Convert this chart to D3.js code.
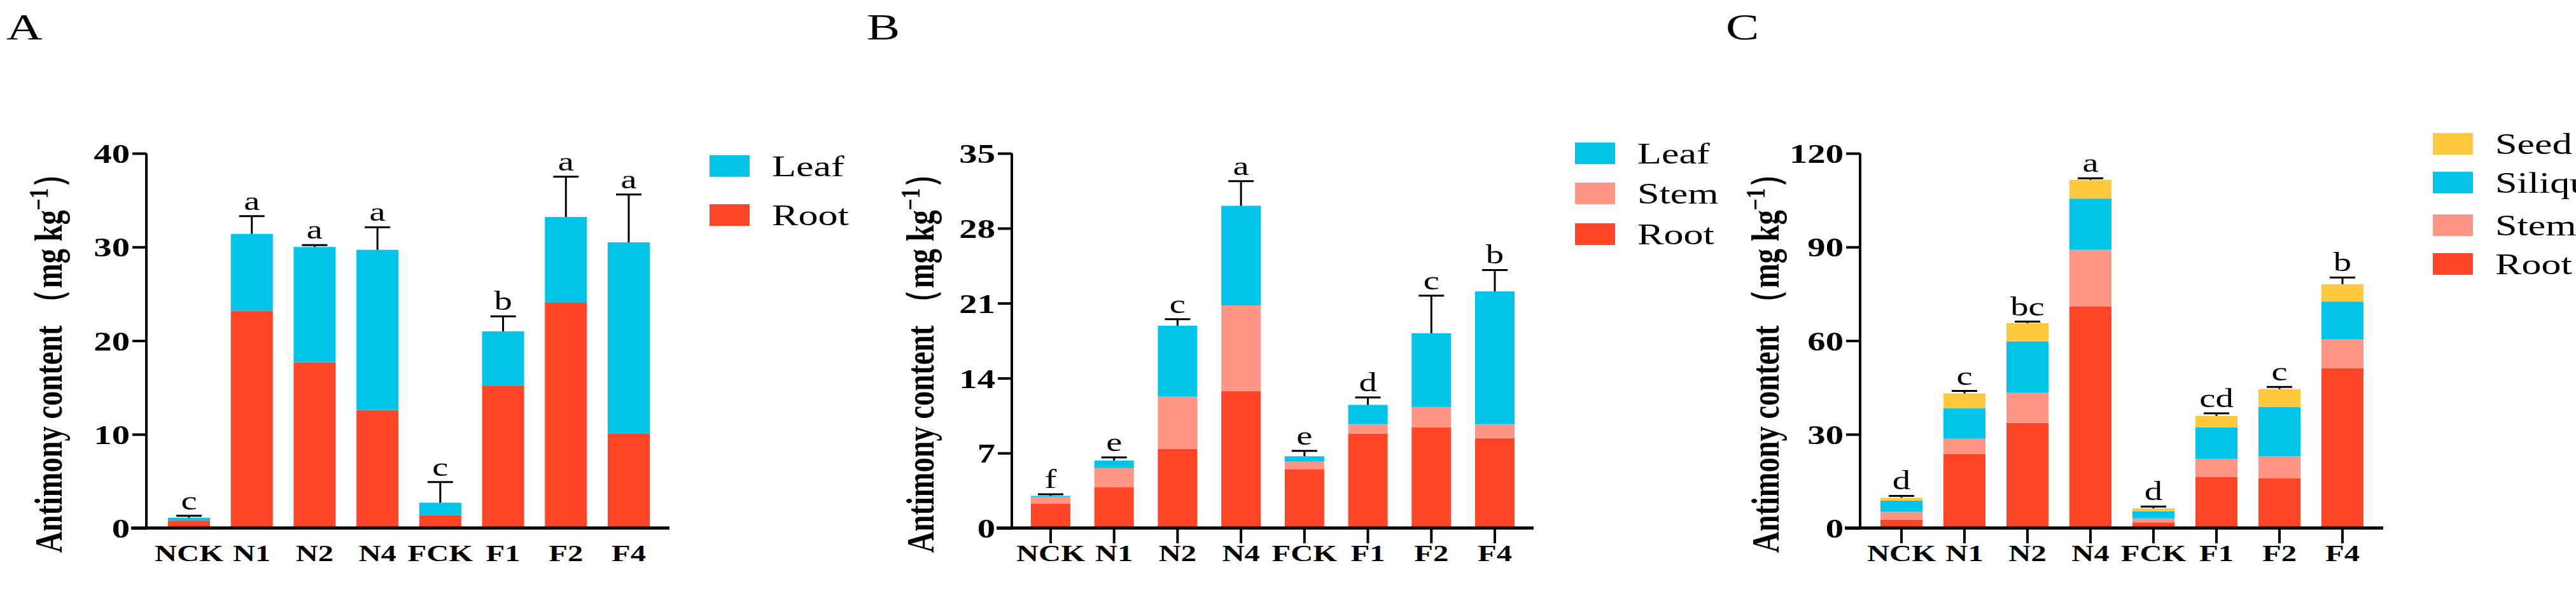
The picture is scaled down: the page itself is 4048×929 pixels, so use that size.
<!DOCTYPE html>
<meta charset="utf-8">
<style>
body { margin: 0; background: #fff; }
text { font-family: "Liberation Serif", "Times New Roman", serif; }
</style>
<body>
<script src="https://cdn.jsdelivr.net/npm/d3@7"></script>
<script>
// categories and values
var groups = ["NCK", "N1", "N2", "N4", "FCK", "F1", "F2", "F4"];

// panel A: root and leaf
var aRoot = [0.8, 23.2, 17.7, 12.6, 1.4, 15.2, 24.1, 10.1];
var aLeaf = [0.3, 8.2, 12.3, 17.1, 1.3, 5.8, 9.1, 20.4];
var aErr  = [0.2, 1.9, 0.2, 2.4, 2.2, 1.6, 4.3, 5.1];
var aSig  = ["c", "a", "a", "a", "c", "b", "a", "a"];

// panel B: root, stem, leaf
var bRoot = [2.3, 3.8, 7.4, 12.8, 5.5, 8.8, 9.4, 8.4];
var bStem = [0.6, 1.8, 4.9, 8.0, 0.7, 0.9, 1.9, 1.3];
var bLeaf = [0.1, 0.7, 6.6, 9.3, 0.5, 1.8, 6.9, 12.4];
var bErr  = [0.15, 0.3, 0.6, 2.3, 0.5, 0.7, 3.5, 2.0];
var bSig  = ["f", "e", "c", "a", "e", "d", "c", "b"];

// panel C: root, stem, silique, seed
var cRoot = [2.7, 23.7, 33.7, 70.9, 1.8, 16.4, 16.0, 51.2];
var cStem = [2.5, 4.9, 9.6, 18.2, 1.3, 5.7, 7.0, 9.3];
var cSil  = [3.6, 9.8, 16.5, 16.4, 2.3, 10.2, 15.7, 12.0];
var cSeed = [0.9, 4.7, 5.8, 6.0, 0.9, 3.6, 5.8, 5.6];
var cErr  = [0.6, 0.8, 0.5, 0.5, 0.6, 0.8, 0.7, 2.1];
var cSig  = ["d", "c", "bc", "a", "d", "cd", "c", "b"];

var col = {Root: "#ff4528", Stem: "#ff9585", Leaf: "#00c5e8", Silique: "#00c5e8", Seed: "#ffc83d"};
var Y0 = 830, Y1 = 241, SX = 1.35;   // text in the figure is stretched sideways

var svg = d3.select("body").append("svg").attr("width", 4048).attr("height", 929);

// widen a text element around its anchor point
function stretch(sel) {
  sel.each(function() {
    var t = d3.select(this);
    var x = +t.attr("x") || 0, y = +t.attr("y") || 0;
    var pre = t.attr("transform") || "";
    t.attr("x", 0).attr("y", 0)
     .attr("transform", pre + " translate(" + x + "," + y + ") scale(" + SX + ",1)");
  });
}

function panel(o) {
  var g = svg.append("g");
  g.append("text").attr("x", o.letterX).attr("y", 62).attr("font-size", 58).text(o.letter).call(stretch);

  var x = d3.scalePoint().domain(groups).range([o.x0, o.x1]);
  var y = d3.scaleLinear().domain([0, o.max]).range([Y0, Y1]);
  var bw = o.bw;

  var rows = groups.map(function(gname, i) {
    var r = {group: gname};
    o.series.forEach(function(s) { r[s.name] = s.values[i]; });
    return r;
  });
  var stack = d3.stack().keys(o.series.map(function(s) { return s.name; }))(rows);

  g.selectAll(".layer").data(stack).enter().append("g")
    .attr("fill", function(d) { return col[d.key]; })
    .selectAll("rect").data(function(d) { return d; }).enter().append("rect")
    .attr("x", function(d) { return x(d.data.group) - bw / 2; })
    .attr("y", function(d) { return y(d[1]); })
    .attr("width", bw)
    .attr("height", function(d) { return y(d[0]) - y(d[1]); });

  // error bars and letters
  var top = stack[stack.length - 1];
  groups.forEach(function(gname, i) {
    var t = top[i][1], e = t + o.err[i], cx = x(gname);
    g.append("line").attr("x1", cx).attr("x2", cx).attr("y1", y(t)).attr("y2", y(e))
      .attr("stroke", "#000").attr("stroke-width", 3);
    g.append("line").attr("x1", cx - 20).attr("x2", cx + 20).attr("y1", y(e)).attr("y2", y(e))
      .attr("stroke", "#000").attr("stroke-width", 3);
    g.append("text").attr("x", cx).attr("y", y(e) - 10).attr("text-anchor", "middle")
      .attr("font-size", 42).text(o.sig[i]).call(stretch);
  });

  // y axis
  var ya = g.append("g").attr("transform", "translate(" + o.ax + ",0)")
    .call(d3.axisLeft(y).tickValues(d3.range(0, o.max + 1, o.step)).tickSize(22).tickPadding(6));
  ya.selectAll("text").attr("font-size", 42).attr("font-weight", "bold")
    .style("font-family", "Liberation Serif").attr("dy", "0.35em").attr("x", -26).call(stretch);
  ya.selectAll("line, path").attr("stroke", "#000").attr("stroke-width", 4);
  ya.select(".domain").attr("d", "M0," + Y1 + "V" + Y0);

  // x axis
  g.append("line").attr("x1", o.ax - 24).attr("x2", o.axEnd).attr("y1", Y0).attr("y2", Y0)
    .attr("stroke", "#000").attr("stroke-width", 5);
  groups.forEach(function(gname) {
    if (o.xticks) g.append("line").attr("x1", x(gname)).attr("x2", x(gname)).attr("y1", Y0).attr("y2", Y0 + 24)
      .attr("stroke", "#000").attr("stroke-width", 4);
    g.append("text").attr("x", x(gname)).attr("y", 882).attr("text-anchor", "middle")
      .attr("font-size", 36).attr("font-weight", "bold").text(gname).call(stretch);
  });

  // y title, rotated, stretched in its own height direction
  g.append("text").attr("transform", "translate(" + o.titleX + ",559) rotate(-90) scale(1," + SX + ")")
    .attr("text-anchor", "middle").attr("dy", "0.35em").attr("font-size", 46).attr("font-weight", "bold")
    .attr("textLength", 620).attr("lengthAdjust", "spacingAndGlyphs")
    .html("Antimony content （mg kg<tspan dy='-16' font-size='32'>−1</tspan><tspan dy='16'>）</tspan>");

  // legend
  o.legend.forEach(function(name, i) {
    var ly = o.legY[i];
    g.append("rect").attr("x", o.legX).attr("y", ly - 17).attr("width", 63).attr("height", 34).attr("fill", col[name]);
    g.append("text").attr("x", o.legX + 98).attr("y", ly + 16).attr("font-size", 46).text(name).call(stretch);
  });
}

panel({letter: "A", letterX: 10, x0: 297, x1: 988, ax: 230, axEnd: 1052, bw: 66, max: 40, step: 10,
  series: [{name: "Root", values: aRoot}, {name: "Leaf", values: aLeaf}], err: aErr, sig: aSig,
  titleX: 75, xticks: false, legend: ["Leaf", "Root"], legX: 1115, legY: [261, 338]});

panel({letter: "B", letterX: 1362, x0: 1651, x1: 2349, ax: 1590, axEnd: 2410, bw: 62, max: 35, step: 7,
  series: [{name: "Root", values: bRoot}, {name: "Stem", values: bStem}, {name: "Leaf", values: bLeaf}],
  err: bErr, sig: bSig, titleX: 1445, xticks: true, legend: ["Leaf", "Stem", "Root"], legX: 2475, legY: [241, 304, 368]});

panel({letter: "C", letterX: 2712, x0: 2988, x1: 3681, ax: 2923, axEnd: 3745, bw: 66, max: 120, step: 30,
  series: [{name: "Root", values: cRoot}, {name: "Stem", values: cStem}, {name: "Silique", values: cSil}, {name: "Seed", values: cSeed}],
  err: cErr, sig: cSig, titleX: 2773, xticks: true, legend: ["Seed", "Silique", "Stem", "Root"], legX: 3823, legY: [226, 287, 354, 415]});
</script>
</body>
